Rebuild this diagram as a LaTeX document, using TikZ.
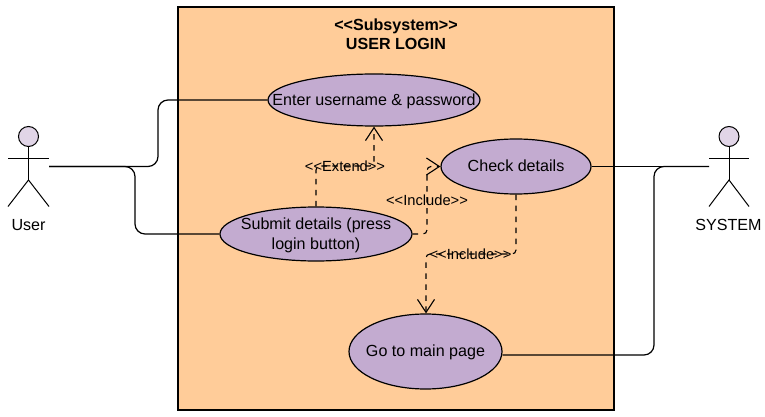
\documentclass[tikz,border=0pt]{standalone}
\usepackage{fontspec}
\setmainfont{Liberation Sans}
\usetikzlibrary{arrows.meta,shapes.geometric}
\definecolor{sysfill}{HTML}{FFCC99}
\definecolor{ucfill}{HTML}{C3ABD0}
\definecolor{headfill}{HTML}{E1D5E7}
\newcommand{\uctext}[1]{\raisebox{-5.5pt}[0pt][0pt]{\makebox[0pt]{\begin{tabular}{@{}c@{}}#1\end{tabular}}}}
\tikzset{
  usecase/.style={draw=black,line width=1.2pt,fill=ucfill,ellipse,inner xsep=0pt,inner ysep=0pt,minimum width=#1,font=\fontsize{16.1}{20}\selectfont},
  system/.style={draw=black,line width=1.1pt,fill=sysfill,minimum width=436pt,minimum height=403pt,inner sep=0pt},
  head/.style={draw=black,line width=1pt,fill=headfill,circle,minimum size=20pt,inner sep=0pt},
  limb/.style={draw=black,line width=1pt},
  assoc/.style={draw=black,line width=1.2pt,rounded corners=10pt},
  dep/.style={draw=black,line width=1.1pt,dash pattern=on 5.5pt off 5.5pt,rounded corners=4pt,-{Straight Barb[length=13pt,width=17pt,line width=1.1pt]}},
  lbl/.style={inner sep=0pt,font=\fontsize{14.7}{16}\selectfont},
  actorname/.style={inner sep=0pt,font=\fontsize{16.1}{18}\selectfont},
  title/.style={inner sep=0pt,align=center,font=\fontsize{16.1}{18.5}\selectfont\bfseries}
}
\begin{document}
\begin{tikzpicture}[x=1pt,y=-1pt]
\useasboundingbox (0,0) rectangle (765,417);
\node[system] (sys) at (396,208.5) {};
\node[title] (ttl) at (396,34) {<{}<Subsystem>{}>\\USER LOGIN};

\node[usecase=212pt,minimum height=52pt] (enter) at (374,100) {\uctext{Enter username \& password}};
\node[usecase=150pt,minimum height=55pt] (check) at (516,166.5) {\uctext{Check details}};
\node[usecase=192pt,minimum height=54pt] (submit) at (316,234) {\uctext{Submit details (press\\login button)}};
\node[usecase=153pt,minimum height=75pt] (main) at (425.5,351.5) {\uctext{Go to main page}};

% User actor
\node[head] (uhead) at (28.5,136.5) {};
\coordinate (uhip) at (28.5,180);
\coordinate (ularm) at (8,158);
\coordinate (urarm) at (49,158);
\coordinate (ullg) at (8,206.5);
\coordinate (urlg) at (49,206.5);
\coordinate (uport) at (49,166.5);
\draw[limb] (uhead) -- (uhip);
\draw[limb] (ularm) -- (urarm);
\draw[limb] (ullg) -- (uhip) -- (urlg);
\node[actorname] (uname) at (28.5,225) {User};

% System actor
\node[head] (shead) at (729,136.5) {};
\coordinate (ship) at (729,180);
\coordinate (slarm) at (709,158);
\coordinate (srarm) at (749,158);
\coordinate (sllg) at (709,206.5);
\coordinate (srlg) at (749,206.5);
\coordinate (sport) at (709,166.5);
\draw[limb] (shead) -- (ship);
\draw[limb] (slarm) -- (srarm);
\draw[limb] (sllg) -- (ship) -- (srlg);
\node[actorname] (sname) at (728.5,225) {SYSTEM};

% Associations
\draw[assoc] (uport) -- (158,166.5) -- (158,100) -- (enter.west);
\draw[assoc] (uport) -- (135,166.5) -- (135,234) -- (submit.west);
\draw[assoc] (sport) -- (check.east);
\draw[assoc] (sport) -- (654,166.5) -- (654,355) -- (main.east |- 0,355);

% Dependencies
\draw[dep] (submit.north) -- (316,166) -- (374,166) -- (enter.south);
\draw[dep] (submit.east) -- (427,234) -- (427,166.5) -- (check.west);
\draw[dep] (check.south) -- (516,254) -- (426,254) -- (main.north -| 426,0);

\node[lbl] (l1) at (345,166) {<{}<Extend>{}>};
\node[lbl] (l2) at (427,200) {<{}<Include>{}>};
\node[lbl] (l3) at (470.5,254.5) {<{}<Include>{}>};
\end{tikzpicture}
\end{document}
